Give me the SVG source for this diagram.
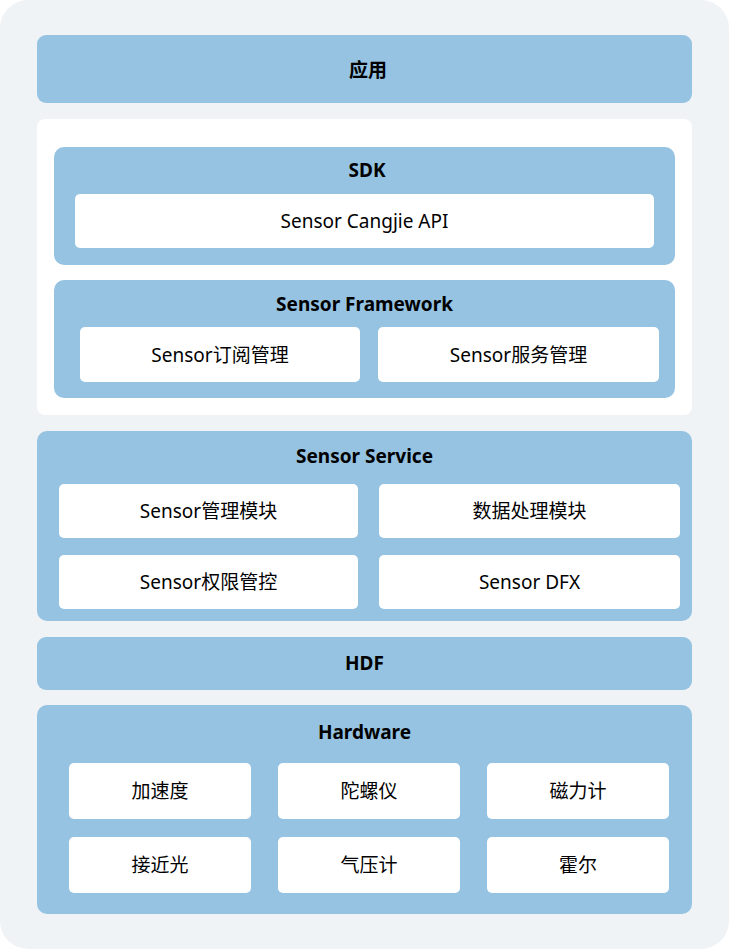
<svg xmlns="http://www.w3.org/2000/svg" width="729" height="950" viewBox="0 0 729 950">
<style>
.bg{fill:#EFF3F6}
.blue{fill:#95C3E1}
.white{fill:#FFFFFF}
text{font-family:"Noto Sans","Noto Sans CJK SC",sans-serif;font-size:19px;fill:#000;text-anchor:middle;dominant-baseline:central}
.t{font-weight:bold}
</style>
<rect class="bg" x="0" y="0" width="729" height="949" rx="28"/>
<g id="app">
<rect class="blue" x="37" y="35" width="655" height="68" rx="9"/>
<text class="t" x="368" y="70">应用</text>
</g>
<g id="sdk-panel">
<rect class="white" x="37" y="119" width="655" height="296" rx="8"/>
</g>
<g id="sdk">
<rect class="blue" x="54" y="147" width="621" height="118" rx="10"/>
<text class="t" x="367" y="170">SDK</text>
<rect class="white" x="75" y="194" width="579" height="54" rx="5"/>
<text x="364.5" y="221">Sensor Cangjie API</text>
</g>
<g id="framework">
<rect class="blue" x="54" y="280" width="621" height="118" rx="10"/>
<text class="t" x="364.5" y="304">Sensor Framework</text>
<rect class="white" x="80" y="327" width="280" height="55" rx="5"/>
<text x="220" y="355">Sensor订阅管理</text>
<rect class="white" x="378" y="327" width="281" height="55" rx="5"/>
<text x="518.5" y="355">Sensor服务管理</text>
</g>
<g id="service">
<rect class="blue" x="37" y="431" width="655" height="190" rx="10"/>
<text class="t" x="364.5" y="456">Sensor Service</text>
<rect class="white" x="59" y="484" width="299" height="54" rx="5"/>
<text x="208.5" y="511">Sensor管理模块</text>
<rect class="white" x="379" y="484" width="301" height="54" rx="5"/>
<text x="529.5" y="511">数据处理模块</text>
<rect class="white" x="59" y="555" width="299" height="54" rx="5"/>
<text x="208.5" y="582">Sensor权限管控</text>
<rect class="white" x="379" y="555" width="301" height="54" rx="5"/>
<text x="529.5" y="582">Sensor DFX</text>
</g>
<g id="hdf">
<rect class="blue" x="37" y="637" width="655" height="53" rx="9"/>
<text class="t" x="364.5" y="663">HDF</text>
</g>
<g id="hardware">
<rect class="blue" x="37" y="705" width="655" height="209" rx="10"/>
<text class="t" x="364.5" y="732">Hardware</text>
<rect class="white" x="69" y="763" width="182" height="56" rx="5"/>
<text x="160" y="791">加速度</text>
<rect class="white" x="278" y="763" width="182" height="56" rx="5"/>
<text x="369" y="791">陀螺仪</text>
<rect class="white" x="487" y="763" width="182" height="56" rx="5"/>
<text x="578" y="791">磁力计</text>
<rect class="white" x="69" y="837" width="182" height="56" rx="5"/>
<text x="160" y="865">接近光</text>
<rect class="white" x="278" y="837" width="182" height="56" rx="5"/>
<text x="369" y="865">气压计</text>
<rect class="white" x="487" y="837" width="182" height="56" rx="5"/>
<text x="578" y="865">霍尔</text>
</g>
<g id="connectors"></g>
</svg>
